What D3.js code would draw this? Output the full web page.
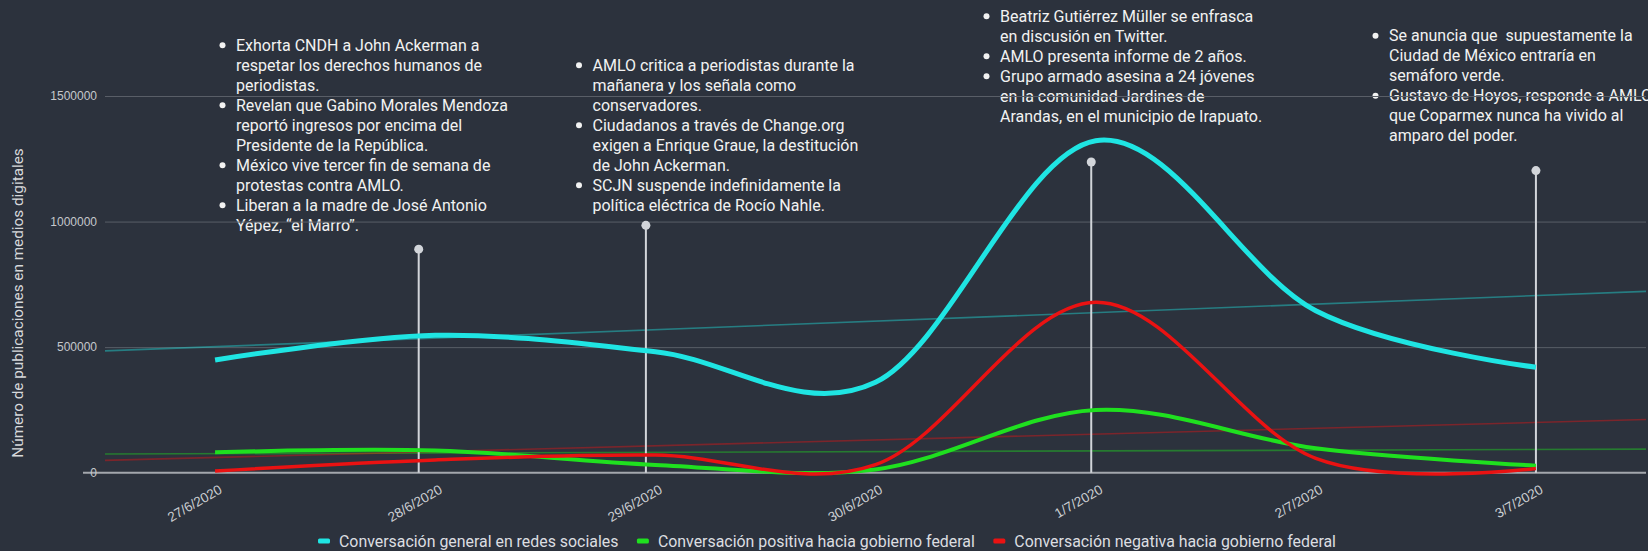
<!doctype html>
<html lang="es">
<head>
<meta charset="utf-8">
<title>Conversación en medios digitales</title>
<script src="https://cdn.jsdelivr.net/npm/d3@7"></script>
<style>
  html, body { margin: 0; padding: 0; background: #2c323d; }
  svg { display: block; font-family: Roboto, "Noto Sans", sans-serif; }
</style>
</head>
<body>
<svg id="chart" width="1648" height="551"></svg>
<script>
// eje x: un punto por día
var fechas = ["27/6/2020", "28/6/2020", "29/6/2020", "30/6/2020", "1/7/2020", "2/7/2020", "3/7/2020"];

// publicaciones por día
var general  = [449000, 547000, 482000, 360000, 1322000, 645000, 420000];
var positiva = [81000, 88000, 31000, 13000, 250000, 97000, 28000];
var negativa = [7000, 51000, 70000, 32000, 679000, 57000, 17000];

var nombres = [
  "Conversación general en redes sociales",
  "Conversación positiva hacia gobierno federal",
  "Conversación negativa hacia gobierno federal"
];

var yTicks = [0, 500000, 1000000, 1500000];

// eventos: día (desde 27/6) y altura del marcador
var eventoDia  = [0.925, 1.957, 3.98, 6];
var eventoAlto = [890000, 985000, 1237000, 1203000];
var eventoTextos = [
  [["Exhorta CNDH a John Ackerman a", "respetar los derechos humanos de", "periodistas."],
   ["Revelan que Gabino Morales Mendoza", "reportó ingresos por encima del", "Presidente de la República."],
   ["México vive tercer fin de semana de", "protestas contra AMLO."],
   ["Liberan a la madre de José Antonio", "Yépez, “el Marro”."]],
  [["AMLO critica a periodistas durante la", "mañanera y los señala como", "conservadores."],
   ["Ciudadanos a través de Change.org", "exigen a Enrique Graue, la destitución", "de John Ackerman."],
   ["SCJN suspende indefinidamente la", "política eléctrica de Rocío Nahle."]],
  [["Beatriz Gutiérrez Müller se enfrasca", "en discusión en Twitter."],
   ["AMLO presenta informe de 2 años."],
   ["Grupo armado asesina a 24 jóvenes", "en la comunidad Jardines de", "Arandas, en el municipio de Irapuato."]],
  [["Se anuncia que  supuestamente la", "Ciudad de México entraría en", "semáforo verde."],
   ["Gustavo de Hoyos, responde a AMLO", "que Coparmex nunca ha vivido al", "amparo del poder."]]
];

// --- layout ---
var W = 1648, H = 551;
var plotL = 105, plotR = 1646, plotT = 96, plotB = 472.7;
var notaPos = [[236, 50.5], [592.5, 70.5], [1000, 21.5], [1389, 41]];
var colores = ["#1fe5e3", "#1fe01f", "#ea1212"];
var anchos = [5, 4, 3.5];
var lineH = 20;

var svg = d3.select("#chart");
svg.append("rect").attr("width", W).attr("height", H).attr("fill", "#2c323d");

var x = d3.scaleLinear().domain([-0.5, fechas.length - 0.5]).range([plotL, plotR]);
var y = d3.scaleLinear().domain([0, 1500000]).range([plotB, plotT]);

// textos de eventos
eventoTextos.forEach(function(bloque, k) {
  var g = svg.append("g")
    .attr("transform", "translate(" + notaPos[k][0] + "," + notaPos[k][1] + ")");
  var fila = 0;
  bloque.forEach(function(item) {
    g.append("circle").attr("cx", -13.5).attr("cy", fila * lineH - 5.2).attr("r", 3).attr("fill", "#f2f2f2");
    item.forEach(function(t) {
      g.append("text").attr("x", 0).attr("y", fila * lineH)
        .attr("font-size", 16).attr("fill", "#f2f2f2")
        .text(t.replace(/  /g, " \u00a0"));   // conservar el doble espacio
      fila++;
    });
  });
});

// rejilla
svg.append("g")
  .attr("transform", "translate(" + plotL + ",0)")
  .call(d3.axisLeft(y).tickValues(yTicks.slice(1)).tickSize(-(plotR - plotL)).tickFormat(""))
  .call(function(g) { g.select(".domain").remove(); })
  .selectAll("line").attr("stroke", "#595e67").attr("stroke-width", 1);

// línea base
svg.append("line").attr("x1", 83).attr("x2", plotR).attr("y1", y(0)).attr("y2", y(0))
  .attr("stroke", "#a3a7ad").attr("stroke-width", 2);

// etiquetas eje y
svg.append("g")
  .attr("transform", "translate(" + plotL + ",0)")
  .call(d3.axisLeft(y).tickValues(yTicks).tickSize(0).tickPadding(8).tickFormat(d3.format("d")))
  .call(function(g) { g.select(".domain").remove(); })
  .selectAll("text").attr("font-size", 12).attr("fill", "#c5c8cc").attr("font-family", null);

svg.append("text")
  .attr("transform", "translate(23,303) rotate(-90)")
  .attr("text-anchor", "middle").attr("font-size", 15.3).attr("fill", "#d6d8db")
  .text("Número de publicaciones en medios digitales");

// líneas de tendencia (regresión lineal)
function tendencia(vals) {
  var mx = d3.mean(vals, function(d, i) { return i; }), my = d3.mean(vals);
  var sxy = d3.sum(vals, function(d, i) { return (i - mx) * (d - my); });
  var sxx = d3.sum(vals, function(d, i) { return (i - mx) * (i - mx); });
  var b = sxy / sxx, a = my - b * mx;
  return x.domain().map(function(t) { return [t, a + b * t]; });
}
var series = [general, positiva, negativa];
var recta = d3.line().x(function(d) { return x(d[0]); }).y(function(d) { return y(d[1]); });
series.forEach(function(vals, k) {
  svg.append("path").attr("d", recta(tendencia(vals)))
    .attr("fill", "none").attr("stroke", colores[k]).attr("stroke-opacity", 0.42).attr("stroke-width", 1.6);
});

// marcadores de eventos
var ev = svg.append("g");
eventoDia.forEach(function(d, i) {
  ev.append("line").attr("x1", x(d)).attr("x2", x(d)).attr("y1", y(eventoAlto[i])).attr("y2", y(0))
    .attr("stroke", "#d2d5da").attr("stroke-width", 2);
  ev.append("circle").attr("cx", x(d)).attr("cy", y(eventoAlto[i])).attr("r", 4.5).attr("fill", "#d2d5da");
});

// series
var curva = d3.line()
  .x(function(d, i) { return x(i); })
  .y(function(d) { return y(d); })
  .curve(d3.curveCardinal.tension(0));
series.forEach(function(vals, k) {
  svg.append("path").attr("d", curva(vals))
    .attr("fill", "none").attr("stroke", colores[k]).attr("stroke-width", anchos[k])
    .attr("stroke-linejoin", "round");
});

// eje x
svg.append("g")
  .attr("transform", "translate(0," + plotB + ")")
  .call(d3.axisBottom(x).tickValues(d3.range(fechas.length)).tickSize(0)
    .tickFormat(function(i) { return fechas[i]; }))
  .call(function(g) { g.select(".domain").remove(); })
  .selectAll("text")
  .attr("font-family", null).attr("font-size", 13.5).attr("fill", "#cbced2")
  .attr("text-anchor", "end").attr("x", 0).attr("y", 0).attr("dy", 0)
  .attr("transform", "translate(7.5,19.5) rotate(-30)");

// leyenda
var ley = svg.append("g");
var px = 0;
nombres.forEach(function(n, k) {
  ley.append("rect").attr("x", px).attr("y", -2.5).attr("width", 12).attr("height", 5).attr("rx", 1.5)
    .attr("fill", colores[k]);
  var t = ley.append("text").attr("x", px + 21).attr("y", 6).attr("font-size", 15.9).attr("fill", "#dcdee1").text(n);
  px += 21 + t.node().getComputedTextLength() + 18.5;
});
var totalLey = px - 18.5;
ley.attr("transform", "translate(" + (827 - totalLey / 2) + ",541)");
</script>
</body>
</html>
